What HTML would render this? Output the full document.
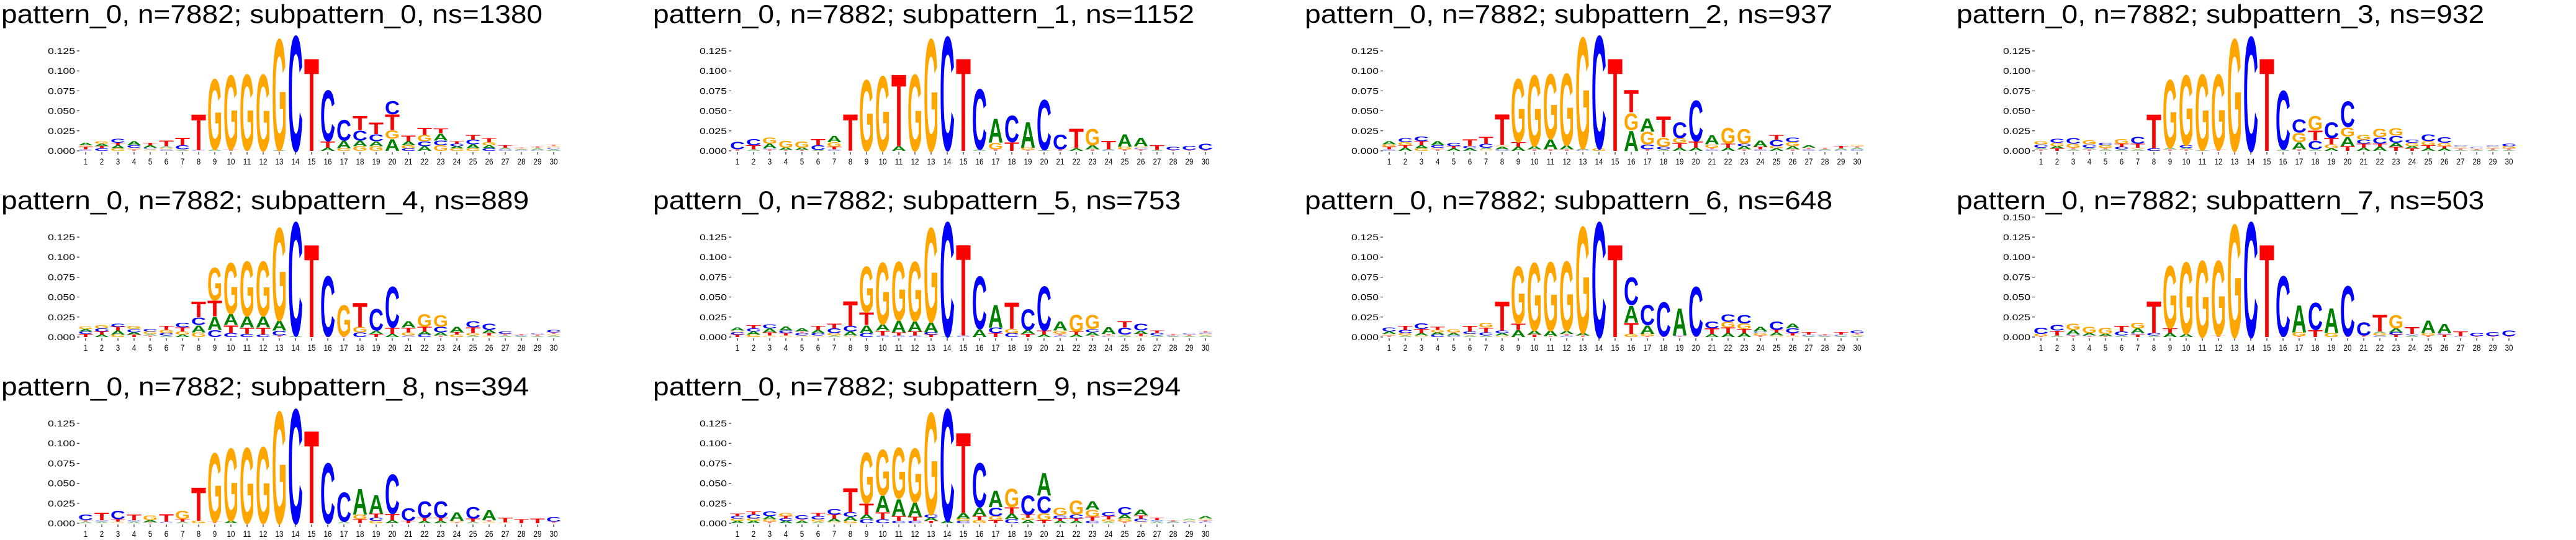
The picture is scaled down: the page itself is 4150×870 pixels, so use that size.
<!DOCTYPE html>
<html><head><meta charset="utf-8"><style>
html,body{margin:0;padding:0;background:#fff;}
svg{display:block;}
</style></head>
<body>
<svg id="fig" width="4150" height="870" viewBox="0 0 4150 870" xmlns="http://www.w3.org/2000/svg"></svg>
<script>
// ---- data (values in thousandths, stacks listed bottom -> top) ----
const TITLES = [
 "pattern_0, n=7882; subpattern_0, ns=1380",
 "pattern_0, n=7882; subpattern_1, ns=1152",
 "pattern_0, n=7882; subpattern_2, ns=937",
 "pattern_0, n=7882; subpattern_3, ns=932",
 "pattern_0, n=7882; subpattern_4, ns=889",
 "pattern_0, n=7882; subpattern_5, ns=753",
 "pattern_0, n=7882; subpattern_6, ns=648",
 "pattern_0, n=7882; subpattern_7, ns=503",
 "pattern_0, n=7882; subpattern_8, ns=394",
 "pattern_0, n=7882; subpattern_9, ns=294"
];
const POSITIONS = [1,2,3,4,5,6,7,8,9,10,11,12,13,14,15,16,17,18,19,20,21,22,23,24,25,26,27,28,29,30];
const YTICKS = [0, 0.025, 0.05, 0.075, 0.1, 0.125];
const YTICKS_TALL = [0, 0.025, 0.05, 0.075, 0.1, 0.125, 0.15];
const TALL_PANELS = [7];
const P0 = ["C2T3G2A3","C3T3A3G3","G3A4T3C5","T2G2C3A5","G2C2A3T3","C2G2A2T7","A1G1C5T10","C1T46","A2G91","T2G96","T1G98","G99","A1G144","C149","T120",
 "A4T8C66","G3A10C27","G6A7C13T18","G6A6C9T15","A15G11T20C17","C3G4A5T7","A6C6G8T9","G7C6A9T6","G3A3C3T3","G3A5C6T6","C3A4G4T5","C2A2T3","C1A1G1T1","C1A2G1T2","A2C2G2T2"];
const P1 = ["T2C10","A2T5C8","T2C1A6G8","T1A3G9","T1A3G8","A1C6T8","C2T3G6A8","T47","G92","G97","A6T93","G99","G145","T1C147","T120",
 "A2C78","T2G8A31","T11C34","T1G3A33","A1C65","T2C19","A3G1T25","T2A5G21","C1A1T11","T2G3A16","T2C2G2A11","A1T6","T1C4","T1C5","T1C8"];
const P2 = ["C2T3G3A4","A4T3G4C5","G3A4T5C6","T2G2C3A5","A3T3C4","A3C3T9","G2A2C5T9","C2A3G2T40","A5T6G82","T2A4G92","T2A13G84","T2A5G93","C1A2G144","G3C146","T120",
 "A26G22T29","T2C6G16A17","A2C3G12T27","A4T6G6C20","A4T8C53","C2T2G4A12","A4T5G20","T2A4C3G19","C2T3A8","A3G3C8T6","T2A4G5C6","C2T2A3","C1A1T2","C1A2T3","C2A2T2G2"];
const P3 = ["T2A2C4G4","T3A3G4C5","A2T2G5C7","T2A2C4G5","A2T2G3C3","A2C3T4G6","A2G2T5C9","C3T44","T2A2G88","T2A2C3G91","A1G98","T2G97","G145","C148","T120",
 "A2C76","T2A9G12C17","A2C11T13G18","A3G5T8C20","T6A12G12C33","A4T5C5G6","A5T4C8G11","T5A5C9G10","T3A3G4C4","A3T4G5C9","A3T3G4C7","A1T2G2C2","A1T1G1C2","A1T2G2C2","A1T2G3C3"];
const P4 = ["T4C3A3G3","A3T4C4G4","G3A5T5C4","T3A3C4G4","T2A2G3C3","A2C3G4T5","A3G4T5C6","G6A9C10T20","C9A17T20G42","C5T10A14G66","C4T8A14G71","C3T9A14G71","T2C6A13G120","A2C147","T120",
 "T1C78","T1G40","C6G7T31","T4A4C28","A4T8C53","C2G4T6A8","C3A4T6G16","T2A4C7G15","G3T3A7","A2G3T7C8","G2T3A4C8","A2T2C3","A1C1T2","A1T2C2","A2G2T2C3"];
const P5 = ["T3C3G2A4","G3A4C4T4","G2T4A5C5","G2T3C3A5","G2C3T2A4","G2C3A4T5","A2G3C6T6","G2A5C7T32","C5A10T16G59","C2T6A8G80","C2T4A15G76","C2T5A13G77","T3C3A13G122","A1C148","C2T118",
 "A10C68","T5C7A29","C5G5T34","T4A5C27","A3T5C57","C2T2G4A12","A3T4G22","T2A4C4G18","C1G1T2A9","A2G1C9T8","G1T3A4C9","A2C3T3","A1C1T2","A1T2C2","A2G2C2T2"];
const P6 = ["T2G2A3C5","A2G3C4T5","G2A3T5C7","C3A3G3T4","C2A3T1G4","A2G2C3T7","A2C4T6G6","G2A3C3T38","A9T8G74","T3A5G88","T1A7G89","C2T2A4G90","T2A3G138","C149","T120",
 "G4T14A22C36","T1G3A11C26","T1C44","T1C1A35","T1C64","A4T7C9","A5T7G7C10","A5T5G7C11","T2G3C2A6","G2A4T3C11","G2T3C6A6","A1C2T3","A1C1T2","A1C2T3","A1G2T2C3"];
const P7 = ["T1G3C8","A2T6C7","T2C1A6G8","T1C1A3G8","T1A3G8","A2C5T7","T3C2A6G7","A2C3T41","A5T6G81","A4G93","G99","T2G97","G146","C149","T120",
 "T1C78","T1G5A35","T9C35","G5A32","T1C65","T2C17","C2G3A2T22","T3C3A5G17","A2C2T9","T2G3A16","T3C2A12","C1T6","T1C4","T1C5","T1C7"];
const P8 = ["A2T2C7","A2C2T10","G2T3C11","A2C2T7","T1A3G6","C2T10","A2T3G11","G3T43","T2G89","A3G94","G98","G99","G145","C148","T120",
 "C78","A2C38","T5G6A33","G3C4T5A24","A4T8C51","T3C16","A3T4C21","A3T4C21","T1G2A11","A2T4C15","G2T2A13","G1T6","T5","T6","T2C6"];
const P9 = ["A3G3C3T3","A3G3C5T4","T2G3A4C6","A3C3T3G4","A3T2C5","A2G3C4T4","G2A4T5C7","G3A5C6T31","C5A6T14G66","C5T9A21G59","C3T6A22G66","C3T5A18G70","T3A4C4G132","A3C145","C3G3A7T104",
 "G4T5A11C57","T4G5C11A21","C5A7T8G24","A4G3T4C25","T4G9C22A29","A3T3C4G10","A3T3C5G18","C3T5G9A11","A2G3T4C5","T2G4A5C10","G2C4T4A7","A2C2T3","C1A1T2","C2G2A2","C2T2G2A3"];
const PANELS = [P0,P1,P2,P3,P4,P5,P6,P7,P8,P9];

// ---- layout ----
const COLX = [0,1050,2100,3150];
const ROWH = 300;
const BASE_Y = 243;        // y of value 0 within panel
const PX_PER_UNIT = 1288;  // pixels per 1.0 value
const POS0_X = 138, POS_STEP = 26, LETTER_W = 24;
const COLORS = {A:"#008000", C:"#0000ff", G:"#ffa500", T:"#ff0000"};
const NS = "http://www.w3.org/2000/svg";
const svg = document.getElementById("fig");

function mk(tag, attrs, parent){
  const e = document.createElementNS(NS, tag);
  for (const k in attrs) e.setAttribute(k, attrs[k]);
  parent.appendChild(e);
  return e;
}
function yScale(v, oy){ return oy + BASE_Y - v*PX_PER_UNIT; }
function xScale(i, ox){ return ox + POS0_X + i*POS_STEP; }

PANELS.forEach(function(stacks, p){
  const row = Math.floor(p/4), col = p%4;
  const ox = COLX[col], oy = row*ROWH;
  const g = mk("g", {}, svg);
  
  

  const t = mk("text", {x: ox+2, y: oy+37, "font-family":"Liberation Sans, sans-serif", "font-size":"42",
    textLength: String(TITLES[p].length*21.8), lengthAdjust:"spacingAndGlyphs", fill:"#000"}, g);
  t.textContent = TITLES[p];
  
  

  // y axis
  const yt = TALL_PANELS.indexOf(p) >= 0 ? YTICKS_TALL : YTICKS;
  const ya = mk("g", {}, g);
  
  
  yt.forEach(function(v){
    const y = yScale(v, oy);
    mk("line", {x1: ox+124, x2: ox+128, y1: y, y2: y, stroke:"#000", "stroke-width":"1"}, ya);
    const lab = mk("text", {x: ox+121, y: y+5, "text-anchor":"end", "font-family":"Liberation Sans, sans-serif",
      "font-size":"14", textLength:"44", lengthAdjust:"spacingAndGlyphs", fill:"#000"}, ya);
    lab.textContent = v.toFixed(3);
    
    
  });

  // x axis
  const xa = mk("g", {}, g);
  
  
  POSITIONS.forEach(function(pos, i){
    const x = xScale(i, ox);
    mk("line", {x1: x, x2: x, y1: oy+BASE_Y+2, y2: oy+BASE_Y+6, stroke:"#000", "stroke-width":"1"}, xa);
    const s = String(pos);
    const lab = mk("text", {x: x, y: oy+BASE_Y+22, "text-anchor":"middle", "font-family":"Liberation Sans, sans-serif",
      "font-size":"14", textLength: String(s.length*6.5), lengthAdjust:"spacingAndGlyphs", fill:"#000"}, xa);
    lab.textContent = s;
    
    
  });

  // letters
  const lg = mk("g", {}, g);
  
  
  stacks.forEach(function(str, i){
    const cx = xScale(i, ox);
    let cum = 0;
    const re = /([ACGT])(\d+)/g;
    let m;
    while ((m = re.exec(str)) !== null){
      const L = m[1], v = parseInt(m[2],10)/1000;
      const yb = yScale(cum, oy), yt2 = yScale(cum+v, oy);
      const h = yb - yt2;
      cum += v;
      if (h <= 0) continue;
      const el = mk("text", {x:"0", y:"0", "font-family":"Liberation Sans, sans-serif", "font-weight":"bold",
        "font-size":"100", textLength:"72", lengthAdjust:"spacingAndGlyphs", fill: COLORS[L],
        transform: "translate(" + (cx - LETTER_W/2) + "," + yb + ") scale(" + (LETTER_W/72) + "," + (h/72) + ")"}, lg);
      if (v < 0.003) el.setAttribute("fill-opacity", "0.5");
      el.textContent = L;
      
      
    }
  });
});
</script>
</body></html>
